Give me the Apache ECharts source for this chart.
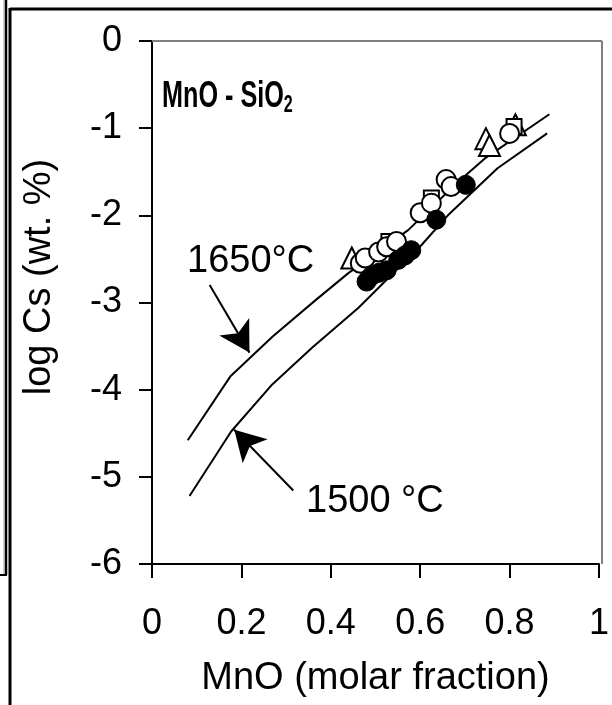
<!DOCTYPE html>
<html><head><meta charset="utf-8">
<script src="https://cdn.jsdelivr.net/npm/echarts@6/dist/echarts.min.js"></script>
<style>html,body{margin:0;padding:0;background:#fff}#c{width:612px;height:705px}</style>
</head><body><div id="c"></div>
<script>
// ---- data ----
const xTicks = [0, 0.2, 0.4, 0.6, 0.8, 1];
const yTicks = [0, -1, -2, -3, -4, -5, -6];
const curve1650X = [0.08, 0.175, 0.27, 0.362, 0.44, 0.573, 0.684, 0.744, 0.889];
const curve1650Y = [-4.58, -3.85, -3.39, -2.99, -2.66, -2.17, -1.62, -1.35, -0.84];
const curve1500X = [0.084, 0.177, 0.269, 0.358, 0.462, 0.603, 0.662, 0.773, 0.884];
const curve1500Y = [-5.22, -4.48, -3.94, -3.52, -3.06, -2.34, -2.0, -1.46, -1.06];
const triX = [0.447, 0.747, 0.755, 0.813];
const triY = [-2.49, -1.12, -1.2, -0.96];
const sqX = [0.53, 0.625, 0.81];
const sqY = [-2.3, -1.8, -0.98];
const openX = [0.466, 0.477, 0.507, 0.525, 0.547, 0.6, 0.625, 0.658, 0.669, 0.80];
const openY = [-2.55, -2.49, -2.42, -2.36, -2.3, -1.97, -1.86, -1.59, -1.67, -1.06];
const fillX = [0.48, 0.49, 0.507, 0.525, 0.551, 0.566, 0.58, 0.636, 0.702];
const fillY = [-2.76, -2.7, -2.66, -2.63, -2.51, -2.46, -2.4, -2.05, -1.65];
const arrow1650 = [[0.129, -2.80], [0.218, -3.575]];
const arrow1500 = [[0.316, -5.157], [0.184, -4.46]];

const zip = (a, b) => a.map((v, i) => [v, b[i]]);
const FONT = 'Liberation Sans, Arial, sans-serif';

const chart = echarts.init(document.getElementById('c'), null, {renderer: 'canvas'});
const option = {
  animation: false,
  backgroundColor: '#fff',
  grid: {left: 152, right: 10, top: 41, bottom: 141, show: false},
  xAxis: {
    type: 'value', min: 0, max: 1, interval: 0.2,
    name: 'MnO (molar fraction)', nameLocation: 'middle', nameGap: 96,
    nameTextStyle: {fontFamily: FONT, fontSize: 38, color: '#000'},
    axisLine: {show: true, onZero: false, lineStyle: {color: '#000', width: 2}},
    axisTick: {show: true, inside: false, length: 14, lineStyle: {color: '#000', width: 2}},
    axisLabel: {fontFamily: FONT, fontSize: 36, color: '#000', margin: 42,
      formatter: v => xTicks.includes(+v.toFixed(1)) ? String(+v.toFixed(1)) : ''},
    splitLine: {show: false}
  },
  yAxis: {
    type: 'value', min: -6, max: 0, interval: 1,
    name: '',
    axisLine: {show: true, onZero: false, lineStyle: {color: '#000', width: 2}},
    axisTick: {show: true, inside: false, length: 13, lineStyle: {color: '#000', width: 2}},
    axisLabel: {fontFamily: FONT, fontSize: 36, color: '#000', margin: 30,
      formatter: v => yTicks.includes(v) ? String(v) : ''},
    splitLine: {show: false}
  },
  series: [
    {type: 'line', data: zip(curve1650X, curve1650Y), symbol: 'none', lineStyle: {color: '#000', width: 2}, z: 2,
     markLine: {silent: true, symbol: ['none', 'arrow'], symbolSize: [26, 30], label: {show: false},
       lineStyle: {color: '#000', width: 2, type: 'solid'},
       data: [[{coord: arrow1650[0]}, {coord: arrow1650[1]}]]}},
    {type: 'line', data: zip(curve1500X, curve1500Y), symbol: 'none', lineStyle: {color: '#000', width: 2}, z: 2,
     markLine: {silent: true, symbol: ['none', 'arrow'], symbolSize: [26, 30], label: {show: false},
       lineStyle: {color: '#000', width: 2, type: 'solid'},
       data: [[{coord: arrow1500[0]}, {coord: arrow1500[1]}]]}},
    {type: 'scatter', data: zip(triX, triY), symbol: 'triangle', symbolSize: 21, z: 3,
     itemStyle: {color: '#fff', borderColor: '#000', borderWidth: 2, opacity: 1}},
    {type: 'scatter', data: zip(sqX, sqY), symbol: 'rect', symbolSize: 15, z: 3,
     itemStyle: {color: '#fff', borderColor: '#000', borderWidth: 2, opacity: 1}},
    {type: 'scatter', data: zip(openX, openY), symbol: 'circle', symbolSize: 19, z: 4,
     itemStyle: {color: '#fff', borderColor: '#000', borderWidth: 2, opacity: 1}},
    {type: 'scatter', data: zip(fillX, fillY), symbol: 'circle', symbolSize: 19, z: 5,
     itemStyle: {color: '#000', borderColor: '#000', borderWidth: 1, opacity: 1}}
  ],
  graphic: [
    // plot frame (top & right, grey)
    {type: 'line', shape: {x1: 152, y1: 41, x2: 602, y2: 41}, style: {stroke: '#808080', lineWidth: 2}, z: 1},
    {type: 'line', shape: {x1: 602, y1: 41, x2: 602, y2: 564}, style: {stroke: '#808080', lineWidth: 2}, z: 1},
    // outer page frame artefacts
    {type: 'line', shape: {x1: 10, y1: 9, x2: 612, y2: 9}, style: {stroke: '#000', lineWidth: 3}},
    {type: 'line', shape: {x1: 10, y1: 8, x2: 10, y2: 705}, style: {stroke: '#000', lineWidth: 3}},
    {type: 'line', shape: {x1: 6, y1: 0, x2: 6, y2: 575}, style: {stroke: '#000', lineWidth: 2.5}},
    {type: 'line', shape: {x1: 4, y1: 0, x2: 4, y2: 575}, style: {stroke: '#999', lineWidth: 1}},
    {type: 'line', shape: {x1: 0, y1: 575, x2: 7, y2: 575}, style: {stroke: '#000', lineWidth: 2}},
    // texts
    {type: 'text', x: 40, y: 277, rotation: Math.PI / 2,
     style: {text: 'log Cs (wt. %)', font: '38px ' + FONT, fill: '#000', align: 'center', verticalAlign: 'middle'}},
    {type: 'text', x: 162, y: 97, scaleX: 0.7,
     style: {text: '{b|MnO - SiO}{s|2}', fontSize: 36, fontWeight: 'bold', fontFamily: FONT, fill: '#000', verticalAlign: 'middle',
      rich: {b: {fontSize: 36, fontWeight: 'bold', fontFamily: FONT, fill: '#000'},
             s: {fontSize: 23, fontWeight: 'bold', fontFamily: FONT, fill: '#000', padding: [18, 0, 0, 0]}}}},
    {type: 'text', x: 187, y: 262, style: {text: '1650°C', font: '38px ' + FONT, fill: '#000', verticalAlign: 'middle'}},
    {type: 'text', x: 306, y: 502, style: {text: '1500 °C', font: '38px ' + FONT, fill: '#000', verticalAlign: 'middle'}}
  ]
};
chart.setOption(option);
</script>
</body></html>
